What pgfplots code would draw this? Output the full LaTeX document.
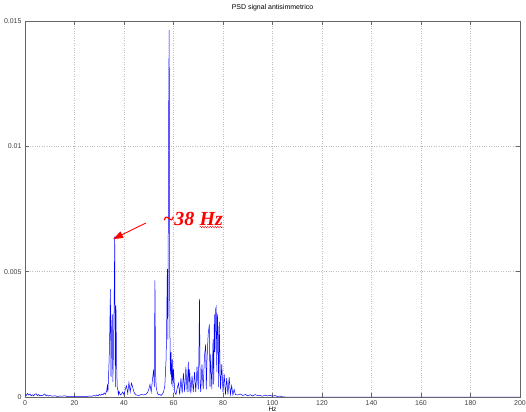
\documentclass[border=0pt]{standalone}
\usepackage{fontspec}
\setmainfont{Liberation Sans}
\newfontfamily\annfont{Liberation Serif}
\usepackage{pgfplots}
\pgfplotsset{compat=1.18}
\usetikzlibrary{arrows.meta,decorations.pathmorphing}

\pgfplotstableread{
x y
0 0.00010
0.5 0.00006
1 0.00014
1.5 0.00008
2 0.00012
2.5 0.00005
3 0.00009
3.5 0.00004
4 0.00011
4.5 0.00013
5 0.00006
5.5 0.00010
6 0.00004
6.5 0.00007
7 0.00005
7.5 0.00009
8 0.00012
8.5 0.00005
9 0.00008
9.5 0.00004
10 0.00006
11 0.00003
12 0.00005
13 0.00002
14 0.00004
15 0.00003
16 0.00005
17 0.00002
18 0.00003
19 0.00002
20 0.00003
21 0.00002
22 0.00003
23 0.00002
24 0.00003
25 0.00002
26 0.00004
27 0.00003
28 0.00006
28.5 0.00004
29 0.00008
29.5 0.00005
30 0.00010
30.5 0.00007
31 0.00012
31.5 0.00009
32 0.00016
32.5 0.00011
33 0.00025
33.25 0.00045
33.5 0.00020
33.75 0.00080
34 0.00150
34.25 0.00260
34.5 0.00430
34.75 0.00080
35 0.00270
35.25 0.00330
35.5 0.00060
35.75 0.00200
36 0.00360
36.25 0.00640
36.5 0.00040
36.75 0.00365
37 0.00140
37.25 0.00040
37.5 0.00030
37.75 0.00010
38 0.00022
38.5 0.00008
39 0.00012
39.5 0.00020
40 0.00008
40.5 0.00030
41 0.00045
41.5 0.00015
42 0.00058
42.5 0.00020
43 0.00055
43.5 0.00040
44 0.00020
44.5 0.00012
45 0.00008
46 0.00006
47 0.00010
48 0.00008
49 0.00012
49.5 0.00018
50 0.00030
50.5 0.00050
51 0.00020
51.5 0.00070
52 0.00110
52.25 0.00040
52.5 0.00465
52.75 0.00100
53 0.00040
53.5 0.00015
54 0.00008
54.5 0.00010
55 0.00006
55.5 0.00012
56 0.00020
56.5 0.00045
57 0.00150
57.25 0.00290
57.5 0.00510
57.75 0.00230
58 0.01050
58.25 0.01465
58.5 0.00310
58.75 0.00090
59 0.00180
59.25 0.00050
59.5 0.00150
59.75 0.00040
60 0.00110
60.5 0.00020
61 0.00010
61.5 0.00035
62 0.00055
62.5 0.00010
63 0.00075
63.5 0.00015
64 0.00095
64.5 0.00020
65 0.00120
65.5 0.00020
66 0.00140
66.25 0.00020
66.5 0.00110
67 0.00015
67.5 0.00085
68 0.00020
68.5 0.00100
69 0.00020
69.5 0.00120
70 0.00030
70.25 0.00150
70.5 0.00390
70.75 0.00060
71 0.00020
71.5 0.00130
72 0.00030
72.5 0.00160
73 0.00210
73.25 0.00030
73.5 0.00140
74 0.00250
74.5 0.00290
74.75 0.00040
75 0.00170
75.5 0.00030
76 0.00230
76.25 0.00050
76.5 0.00330
76.75 0.00180
77 0.00350
77.25 0.00360
77.5 0.00100
77.75 0.00330
78 0.00240
78.25 0.00040
78.5 0.00300
78.75 0.00150
79 0.00030
79.5 0.00130
80 0.00020
80.5 0.00090
81 0.00010
81.5 0.00075
82 0.00010
82.5 0.00080
83 0.00010
83.5 0.00045
84 0.00008
84.5 0.00030
85 0.00010
86 0.00008
87 0.00012
88 0.00006
89 0.00010
90 0.00005
91 0.00009
92 0.00004
93 0.00010
94 0.00005
95 0.00006
96 0.00003
97 0.00008
98 0.00004
99 0.00007
100 0.00003
101 0.00006
102 0.00002
103 0.00004
104 0.00001
105 0
200 0
}\psd

\begin{document}
\begin{tikzpicture}
\begin{axis}[
  scale only axis, width=495bp, height=376bp,
  xmin=0, xmax=200, ymin=0, ymax=0.015,
  xtick={0,20,...,200},
  ytick={0,0.005,0.01,0.015},
  yticklabels={0,0.005,0.01,0.015},
  scaled y ticks=false,
  /pgf/number format/assume math mode=true,
  tick label style={font=\fontsize{7}{8}\selectfont, text=black!75},
  tick align=inside, major tick length=4bp,
  axis line style={gray!80!black},
  every tick/.style={gray!80!black},
  grid=major, grid style={dotted, gray!50},
  title={PSD signal antisimmetrico},
  title style={font=\fontsize{7}{8}\selectfont, at={(0.5,1)}, anchor=south, yshift=1bp},
  xlabel={Hz}, xlabel style={font=\fontsize{6.5}{7}\selectfont, at={(0.5,0)}, anchor=base, yshift=-14bp},
]
\addplot[blue, line width=0.5pt, no markers] table[x=x, y=y] {\psd};
\draw[red, line width=0.9pt, -{Triangle[length=10pt,width=7pt]}]
  (axis cs:48.8,0.00694) -- (axis cs:35.6,0.00630);
\node[anchor=base west, inner sep=0, text=red, font=\annfont\bfseries\itshape\fontsize{20}{22}\selectfont]
  (a) at (axis cs:55.7,0.00686) {\textasciitilde38};
\node[anchor=base west, inner sep=0, text=red, font=\annfont\bfseries\itshape\fontsize{20}{22}\selectfont]
  (b) at ([xshift=5bp]a.base east) {Hz};
\draw[red, line width=0.4pt, decorate, decoration={snake, amplitude=0.7pt, segment length=2.5pt}]
  ([yshift=-2bp]b.base west) -- ([yshift=-2bp]b.base east);
\end{axis}
\pgfresetboundingbox
\path[use as bounding box] (-25bp,-15bp) rectangle (501bp,397bp);
\end{tikzpicture}
\end{document}
